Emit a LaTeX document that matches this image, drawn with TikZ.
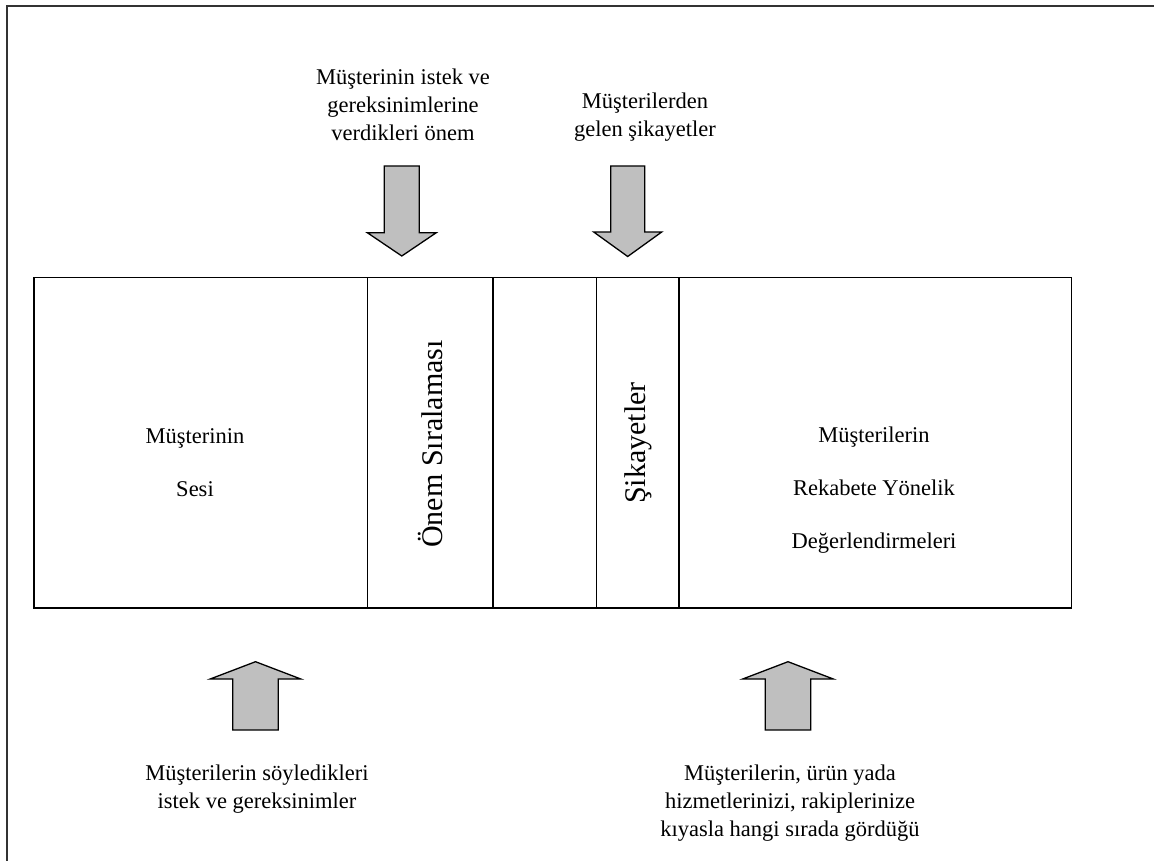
\documentclass[tikz,border=0pt]{standalone}
\usepackage{fontspec}
\setmainfont{Liberation Serif}
\begin{document}
\begin{tikzpicture}[x=1pt,y=-1pt,
  txt/.style={align=center, font=\fontsize{22.5}{28}\selectfont, inner sep=0pt},
  celltxt/.style={align=center, font=\fontsize{22.5}{53}\selectfont, inner sep=0pt},
  vtxt/.style={rotate=90, font=\fontsize{30}{36}\selectfont, inner sep=0pt},
  cell/.style={rectangle, minimum height=330.5pt, inner sep=0pt, outer sep=0pt},
  boxline/.style={line width=1.8pt},
  thinline/.style={line width=1pt},
  fat/.style={fill=black!25, draw=black, line width=1.3pt, line join=miter},
]
\useasboundingbox (0,0) rectangle (1154,861);

% page frame (top and left edges only)
\draw[line width=2pt, black!80] (7,861) -- (7,6) -- (1154,6);

% block arrow: x centre, tail y, shoulder y, tip y, shaft half width, head half width
\newcommand\blockarrow[6]{%
  \draw[fat] (#1-#5,#2) -- (#1+#5,#2) -- (#1+#5,#3) -- (#1+#6,#3)
    -- (#1,#4) -- (#1-#6,#3) -- (#1-#5,#3) -- cycle;}

% the cells of the matrix
\node[cell, minimum width=333.5pt] (voc)   at (200.75,442.75) {};
\node[cell, minimum width=125.2pt] (rank)  at (430.1,442.75) {};
\node[cell, minimum width=103.3pt] (blank) at (544.35,442.75) {};
\node[cell, minimum width=83pt]    (comp)  at (637.5,442.75) {};
\node[cell, minimum width=392.5pt] (rival) at (875.25,442.75) {};

\draw[boxline] (voc.north west) rectangle (rival.south east);
\draw[boxline] (voc.north east) -- (voc.south east);
\draw[boxline] (rank.north east) -- (rank.south east);
\draw[thinline] (comp.north west) -- (comp.south west);
\draw[boxline] (comp.north east) -- (comp.south east);

% cell texts
\node[celltxt] (voctxt) at (195,463) {Müşterinin\\Sesi};
\node[vtxt] (ranktxt) at (430,444) {Önem Sıralaması};
\node[vtxt] (comptxt) at (638,443) {Şikayetler};
\node[celltxt] (rivaltxt) at (874,490) {Müşterilerin\\Rekabete Yönelik\\Değerlendirmeleri};

% input texts
\node[txt] (top1) at (403,105) {Müşterinin istek ve\\gereksinimlerine\\verdikleri önem};
\node[txt] (top2) at (645,117) {Müşterilerden\\gelen şikayetler};
\node[txt] (bot1) at (257,789) {Müşterilerin söyledikleri\\istek ve gereksinimler};
\node[txt] (bot2) at (790,803) {Müşterilerin, ürün yada\\hizmetlerinizi, rakiplerinize\\kıyasla hangi sırada gördüğü};

% input arrows
\blockarrow{401.8}{166}{232.7}{256}{17.5}{34.5}
\blockarrow{627.7}{166}{232}{256.5}{17}{34}
\blockarrow{255.5}{730}{679}{661.7}{22.8}{45.3}
\blockarrow{788}{730}{679}{661.7}{22.8}{45.3}
\end{tikzpicture}
\end{document}
